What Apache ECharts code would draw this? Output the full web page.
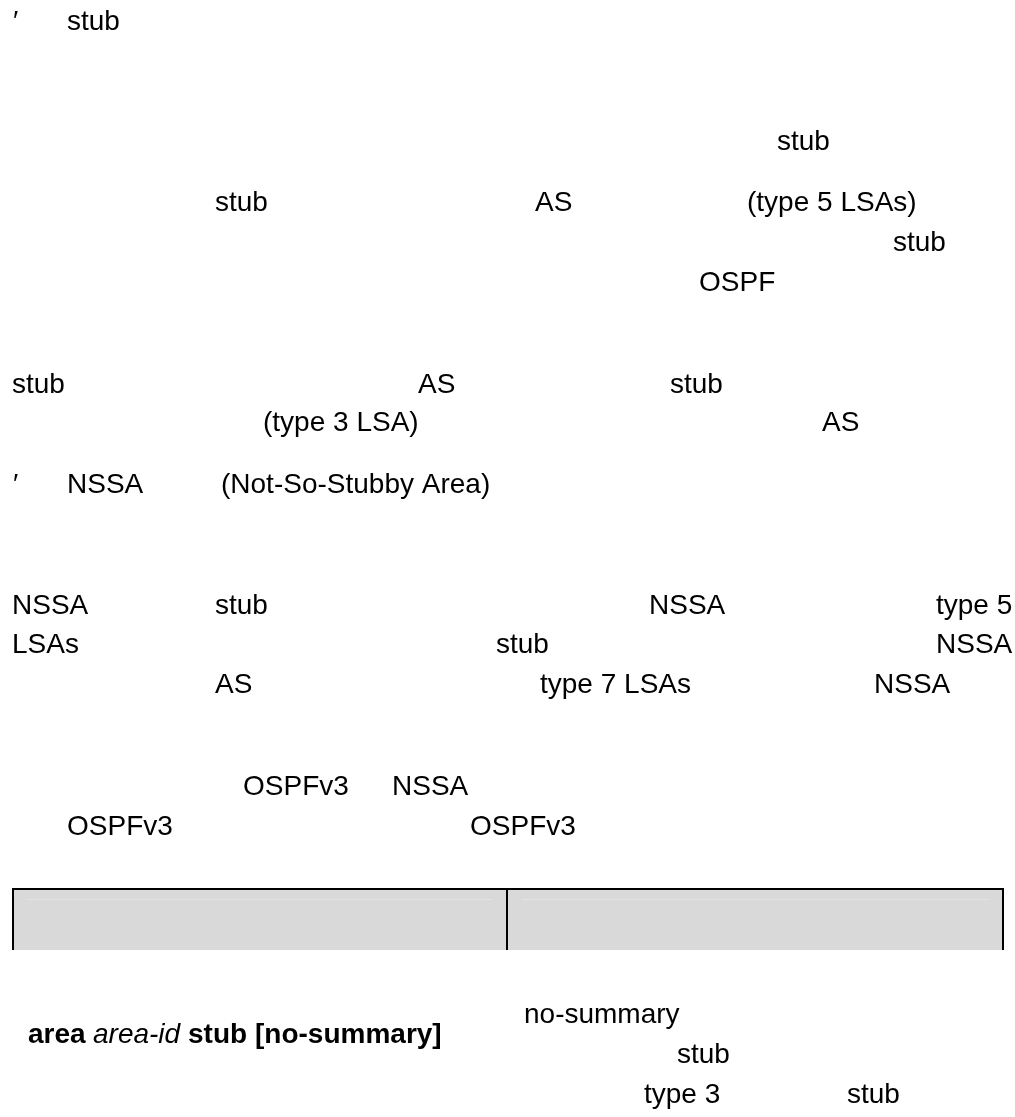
<!DOCTYPE html>
<html>
<head>
<meta charset="utf-8">
<title>stub / NSSA</title>
<script src="https://cdn.jsdelivr.net/npm/echarts@6/dist/echarts.min.js"></script>
<style>
  html, body { margin: 0; padding: 0; background: #fff; }
  #main { width: 1015px; height: 1117px; }
</style>
</head>
<body>
<div id="main"></div>
<script>
'use strict';
// words that survive on the page, in reading order
var words = [
  '\u2032', 'stub',
  'stub',
  'stub', 'AS', '(type 5 LSAs)',
  'stub',
  'OSPF',
  'stub', 'AS', 'stub',
  '(type 3 LSA)', 'AS',
  '\u2032', 'NSSA', '(Not-So-Stubby Area)',
  'NSSA', 'stub', 'NSSA', 'type 5',
  'LSAs', 'stub', 'NSSA',
  'AS', 'type 7 LSAs', 'NSSA',
  'OSPFv3', 'NSSA',
  'OSPFv3', 'OSPFv3'
];
// left edge and baseline of each word
var wordX = [13, 67, 777, 215, 535, 747, 893, 699, 12, 418, 670, 263, 822,
  13, 67, 221, 12, 215, 649, 936, 12, 496, 936, 215, 540, 874, 243, 392, 67, 470];
var wordBase = [32, 32, 152, 213, 213, 213, 253, 293, 395, 395, 395, 433, 433,
  495, 495, 495, 616, 616, 616, 616, 655, 655, 655, 695, 695, 695, 797, 797, 837, 837];

// the command row below the table
var cmdParts = ['area', 'area-id', 'stub', '[no-summary]'];
var cmdStyle = ['bold', 'italic', 'bold', 'bold'];
var cmdX = [28, 93, 188, 255];
var descWords = ['no-summary', 'stub', 'type 3', 'stub'];
var descX = [524, 677, 644, 847];
var descBase = [1025, 1065, 1105, 1105];

var FONT = '"Liberation Sans", Arial, sans-serif';
var SIZE = 28;

function textEl(str, x, base, weight, style) {
  return {
    type: 'text',
    silent: true,
    style: {
      text: str,
      x: x,
      y: base - 10,
      fill: '#000',
      font: (style || 'normal') + ' ' + (weight || 'normal') + ' ' + SIZE + 'px ' + FONT,
      verticalAlign: 'middle',
      align: 'left'
    }
  };
}

function rectEl(x, y, w, h, color) {
  return { type: 'rect', silent: true, shape: { x: x, y: y, width: w, height: h }, style: { fill: color } };
}

var elements = [];
for (var i = 0; i < words.length; i++) {
  elements.push(textEl(words[i], wordX[i], wordBase[i]));
}

// table header: grey cells, thick top rule, vertical borders
elements.push(rectEl(14, 890, 988, 60, '#d9d9d9'));
elements.push(rectEl(27, 899, 465, 1, '#e3e3e3'));
elements.push(rectEl(522, 899, 467, 1, '#e3e3e3'));
elements.push(rectEl(12, 888, 992, 2, '#000'));
elements.push(rectEl(12, 888, 2, 62, '#000'));
elements.push(rectEl(506, 888, 2, 62, '#000'));
elements.push(rectEl(1002, 888, 2, 62, '#000'));

for (var j = 0; j < cmdParts.length; j++) {
  var st = cmdStyle[j];
  elements.push(textEl(cmdParts[j], cmdX[j], 1045, st === 'bold' ? 'bold' : 'normal', st === 'italic' ? 'italic' : 'normal'));
}
for (var k = 0; k < descWords.length; k++) {
  elements.push(textEl(descWords[k], descX[k], descBase[k]));
}

var chart = echarts.init(document.getElementById('main'), null, { renderer: 'canvas' });
chart.setOption({
  animation: false,
  backgroundColor: '#fff',
  graphic: { elements: elements }
});
</script>
</body>
</html>
